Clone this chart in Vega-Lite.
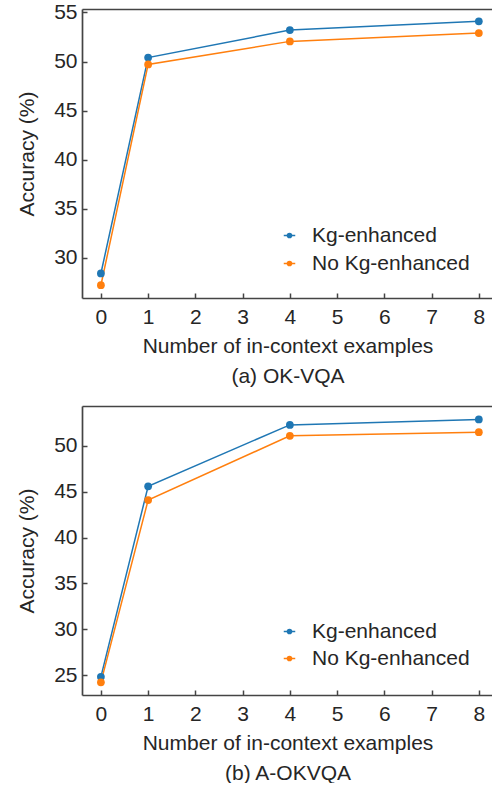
{
  "$schema": "https://vega.github.io/schema/vega-lite/v6.json",
  "padding": {"left": 16, "top": 1, "right": 0, "bottom": 0},
  "spacing": 20,
  "config": {
    "font": "Liberation Sans",
    "view": {"stroke": null},
    "axis": {
      "grid": false,
      "domain": true,
      "domainColor": "#444444",
      "domainWidth": 1.7,
      "tickSize": -5,
      "tickColor": "#444444",
      "tickWidth": 1.5,
      "labelFontSize": 21,
      "labelColor": "#262626",
      "labelFont": "Liberation Sans",
      "titleFont": "Liberation Sans",
      "titleFontSize": 21,
      "titleFontWeight": "normal",
      "titleColor": "#262626"
    },
    "legend": {
      "labelFontSize": 21,
      "labelColor": "#262626",
      "labelFont": "Liberation Sans",
      "padding": 0,
      "rowPadding": 6,
      "labelOffset": 12
    }
  },
  "datasets": {
    "acc": [
      {"panel": "a", "examples": 0, "method": "Kg-enhanced", "accuracy": 28.4},
      {"panel": "a", "examples": 1, "method": "Kg-enhanced", "accuracy": 50.4},
      {"panel": "a", "examples": 4, "method": "Kg-enhanced", "accuracy": 53.2},
      {"panel": "a", "examples": 8, "method": "Kg-enhanced", "accuracy": 54.1},
      {"panel": "a", "examples": 0, "method": "No Kg-enhanced", "accuracy": 27.2},
      {"panel": "a", "examples": 1, "method": "No Kg-enhanced", "accuracy": 49.7},
      {"panel": "a", "examples": 4, "method": "No Kg-enhanced", "accuracy": 52.05},
      {"panel": "a", "examples": 8, "method": "No Kg-enhanced", "accuracy": 52.9},
      {"panel": "b", "examples": 0, "method": "Kg-enhanced", "accuracy": 24.8},
      {"panel": "b", "examples": 1, "method": "Kg-enhanced", "accuracy": 45.6},
      {"panel": "b", "examples": 4, "method": "Kg-enhanced", "accuracy": 52.3},
      {"panel": "b", "examples": 8, "method": "Kg-enhanced", "accuracy": 52.9},
      {"panel": "b", "examples": 0, "method": "No Kg-enhanced", "accuracy": 24.2},
      {"panel": "b", "examples": 1, "method": "No Kg-enhanced", "accuracy": 44.1},
      {"panel": "b", "examples": 4, "method": "No Kg-enhanced", "accuracy": 51.1},
      {"panel": "b", "examples": 8, "method": "No Kg-enhanced", "accuracy": 51.5}
    ]
  },
  "resolve": {"legend": {"color": "independent"}, "scale": {"y": "independent"}},
  "vconcat": [
    {
      "width": 411,
      "height": 289,
      "data": {"name": "acc"},
      "transform": [{"filter": "datum.panel === 'a'"}],
      "resolve": {"axis": {"x": "independent"}},
      "encoding": {
        "y": {
          "field": "accuracy", "type": "quantitative",
          "scale": {"domain": [25.9, 55.35], "nice": false, "zero": false},
          "axis": {"values": [30, 35, 40, 45, 50, 55], "labelPadding": 10, "title": "Accuracy (%)", "titlePadding": 16}
        },
        "color": {
          "field": "method", "type": "nominal",
          "scale": {"domain": ["Kg-enhanced", "No Kg-enhanced"], "range": ["#1f77b4", "#ff7f0e"]},
          "legend": {
            "title": null, "orient": "none", "legendX": 197, "legendY": 216,
            "symbolType": "M-1,0L1,0M-0.36,0A0.36,0.36 0 1,1 0.36,0A0.36,0.36 0 1,1 -0.36,0Z",
            "symbolSize": 132, "symbolStrokeWidth": 1.5
          }
        }
      },
      "layer": [
        {
          "mark": {"type": "line", "strokeWidth": 1.5},
          "encoding": {
            "x": {
              "field": "examples", "type": "quantitative",
              "scale": {"domain": [-0.4, 8.3], "nice": false, "zero": false},
              "axis": {"values": [0, 1, 2, 3, 4, 5, 6, 7, 8], "labelPadding": 13, "title": ["Number of in-context examples", "(a) OK-VQA"], "titleLineHeight": 30, "titlePadding": 8}
            }
          }
        },
        {
          "mark": {"type": "point", "filled": true, "size": 60, "opacity": 1},
          "encoding": {
            "x": {
              "field": "examples", "type": "quantitative",
              "axis": {"orient": "top", "labels": false, "ticks": false, "title": null}
            }
          }
        }
      ]
    },
    {
      "width": 411,
      "height": 289,
      "data": {"name": "acc"},
      "transform": [{"filter": "datum.panel === 'b'"}],
      "resolve": {"axis": {"x": "independent"}},
      "encoding": {
        "y": {
          "field": "accuracy", "type": "quantitative",
          "scale": {"domain": [22.82, 54.36], "nice": false, "zero": false},
          "axis": {"values": [25, 30, 35, 40, 45, 50], "labelPadding": 10, "title": "Accuracy (%)", "titlePadding": 16}
        },
        "color": {
          "field": "method", "type": "nominal",
          "scale": {"domain": ["Kg-enhanced", "No Kg-enhanced"], "range": ["#1f77b4", "#ff7f0e"]},
          "legend": {
            "title": null, "orient": "none", "legendX": 197, "legendY": 215,
            "symbolType": "M-1,0L1,0M-0.36,0A0.36,0.36 0 1,1 0.36,0A0.36,0.36 0 1,1 -0.36,0Z",
            "symbolSize": 132, "symbolStrokeWidth": 1.5, "rowPadding": 5
          }
        }
      },
      "layer": [
        {
          "mark": {"type": "line", "strokeWidth": 1.5},
          "encoding": {
            "x": {
              "field": "examples", "type": "quantitative",
              "scale": {"domain": [-0.4, 8.3], "nice": false, "zero": false},
              "axis": {"values": [0, 1, 2, 3, 4, 5, 6, 7, 8], "labelPadding": 13, "title": ["Number of in-context examples", "(b) A-OKVQA"], "titleLineHeight": 30, "titlePadding": 8}
            }
          }
        },
        {
          "mark": {"type": "point", "filled": true, "size": 60, "opacity": 1},
          "encoding": {
            "x": {
              "field": "examples", "type": "quantitative",
              "axis": {"orient": "top", "labels": false, "ticks": false, "title": null}
            }
          }
        }
      ]
    }
  ]
}
